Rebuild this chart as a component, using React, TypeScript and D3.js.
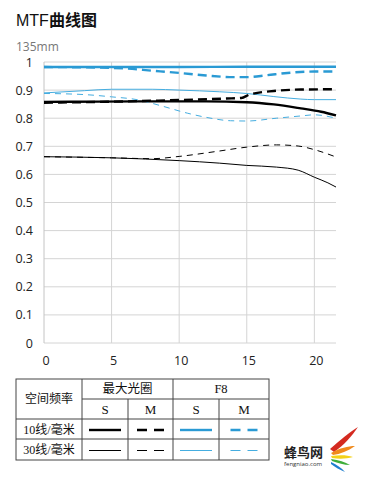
import { useRef, useEffect } from "react"
import * as d3 from "d3"

// MTF readings, x = distance from centre (mm)
const maxS10 = [[0, 0.858], [4, 0.859], [8, 0.86], [12, 0.86], [15, 0.857], [17, 0.849], [19, 0.835], [20.5, 0.823], [21.6, 0.81]]
const maxM10 = [[0, 0.855], [4, 0.858], [8, 0.862], [11, 0.866], [13.5, 0.87], [14.6, 0.872], [15.2, 0.884], [17, 0.897], [19, 0.902], [21.6, 0.903]]
const maxS30 = [[0, 0.663], [5, 0.659], [10, 0.649], [13, 0.64], [15, 0.632], [17.2, 0.626], [18.8, 0.615], [20, 0.59], [21, 0.57], [21.6, 0.555]]
const maxM30 = [[0, 0.663], [5, 0.659], [8, 0.656], [10, 0.664], [12.8, 0.682], [15, 0.697], [17.2, 0.705], [18.8, 0.701], [20, 0.688], [21.6, 0.662]]
const f8S10 = [[0, 0.982], [5, 0.982], [10, 0.982], [15, 0.983], [20, 0.983], [21.6, 0.983]]
const f8M10 = [[0, 0.982], [3, 0.981], [6, 0.977], [8, 0.969], [10, 0.961], [12, 0.952], [14, 0.946], [15, 0.946], [16.5, 0.953], [18, 0.961], [20, 0.966], [21.6, 0.966]]
const f8S30 = [[0, 0.89], [3, 0.898], [5, 0.903], [8, 0.903], [10, 0.9], [13, 0.894], [15, 0.888], [17, 0.877], [19, 0.868], [20, 0.866], [21.6, 0.866]]
const f8M30 = [[0, 0.888], [3, 0.884], [5, 0.876], [7, 0.865], [8.6, 0.845], [10.6, 0.818], [12, 0.803], [13.8, 0.791], [15, 0.79], [17.2, 0.8], [19, 0.808], [20, 0.812], [21.6, 0.8]]

const xTicks = [0, 5, 10, 15, 20]
const yTicks = [0, 0.1, 0.2, 0.3, 0.4, 0.5, 0.6, 0.7, 0.8, 0.9, 1]

const BLUE = "#2a9ad4"
const BLUE_THIN = "#45ade0"

const series = [
  { name: "maxS10", data: maxS10, color: "#000", width: 2.4, dash: null },
  { name: "maxS30", data: maxS30, color: "#000", width: 1, dash: null },
  { name: "maxM30", data: maxM30, color: "#000", width: 1, dash: "6,5" },
  { name: "f8S30", data: f8S30, color: BLUE_THIN, width: 1, dash: null },
  { name: "f8M30", data: f8M30, color: BLUE_THIN, width: 1, dash: "6,5" },
  { name: "maxM10", data: maxM10, color: "#000", width: 2.4, dash: "9,5" },
  { name: "f8S10", data: f8S10, color: BLUE, width: 2.4, dash: null },
  { name: "f8M10", data: f8M10, color: BLUE, width: 2.4, dash: "9,5" },
]

// legend table
const colHeads = ["最大光圈", "F8"]
const subHeads = ["S", "M", "S", "M"]
const rowHeads = ["10线/毫米", "30线/毫米"]

const serif = "'Liberation Serif', 'DejaVu Serif', 'Noto Sans CJK SC', serif"
const sans = "'Open Sans', 'Noto Sans', 'Liberation Sans', sans-serif"

const App = () => {
  const svgRef = useRef<SVGSVGElement>(null)

  useEffect(() => {
    const svg = d3.select(svgRef.current)
    svg.selectAll("*").remove()

    svg.append("rect").attr("width", 365).attr("height", 479).attr("fill", "#fff")

    // title
    const title = svg.append("text").attr("x", 16).attr("y", 26).style("font-size", "16px").attr("fill", "#111")
    title.append("tspan").attr("font-weight", "normal").style("font-family", "'Liberation Sans', sans-serif").text("MTF")
    title.append("tspan").attr("font-weight", "bold").style("font-family", "'Noto Sans CJK SC', sans-serif").text("曲线图")

    svg.append("text").attr("x", 16).attr("y", 51).attr("fill", "#777")
      .style("font-size", "12px").style("font-family", sans).text("135mm")

    const margin = { left: 44, top: 62 }
    const x = d3.scaleLinear().domain([0, 21.6]).range([margin.left, 336])
    const y = d3.scaleLinear().domain([0, 1]).range([343, margin.top])

    const grid = svg.append("g")
    grid.selectAll(".h").data(yTicks).enter().append("line")
      .attr("x1", x(0)).attr("x2", x(21.6))
      .attr("y1", (d) => y(d)).attr("y2", (d) => y(d))
      .attr("stroke", "#d4d4d4").attr("stroke-width", 1)
    grid.selectAll(".v").data(xTicks).enter().append("line")
      .attr("x1", (d) => x(d)).attr("x2", (d) => x(d))
      .attr("y1", y(0)).attr("y2", y(1))
      .attr("stroke", (d) => (d === 0 ? "#c4c4c4" : "#d4d4d4")).attr("stroke-width", 1)

    svg.append("g").selectAll("text").data(yTicks).enter().append("text")
      .attr("x", 33).attr("y", (d) => y(d) + 4.5)
      .attr("text-anchor", "end").attr("fill", "#222")
      .style("font-size", "12.5px").style("font-family", sans)
      .text((d) => (d === 0 || d === 1 ? String(d) : d.toFixed(1)))

    svg.append("g").selectAll("text").data(xTicks).enter().append("text")
      .attr("x", (d) => x(d) + 2).attr("y", 365)
      .attr("text-anchor", "middle").attr("fill", "#222")
      .style("font-size", "12.5px").style("font-family", sans)
      .text((d) => d)

    const line = d3.line<number[]>().x((d) => x(d[0])).y((d) => y(d[1])).curve(d3.curveMonotoneX)

    series.forEach((s) => {
      svg.append("path").datum(s.data)
        .attr("fill", "none").attr("stroke", s.color)
        .attr("stroke-width", s.width)
        .attr("stroke-dasharray", s.dash)
        .attr("d", line)
    })

    // legend table
    const cols = [16, 82, 128, 173, 219, 269]
    const rows = [379, 399, 419, 439, 460]
    const tbl = svg.append("g")
    const stroke = "#444"
    tbl.append("rect").attr("x", cols[0]).attr("y", rows[0]).attr("width", cols[5] - cols[0]).attr("height", rows[4] - rows[0])
      .attr("fill", "none").attr("stroke", stroke)
    ;[cols[1], cols[3]].forEach((c) => tbl.append("line").attr("x1", c).attr("x2", c).attr("y1", rows[0]).attr("y2", rows[4]).attr("stroke", stroke))
    ;[cols[2], cols[4]].forEach((c) => tbl.append("line").attr("x1", c).attr("x2", c).attr("y1", rows[1]).attr("y2", rows[4]).attr("stroke", stroke))
    tbl.append("line").attr("x1", cols[1]).attr("x2", cols[5]).attr("y1", rows[1]).attr("y2", rows[1]).attr("stroke", stroke)
    ;[rows[2], rows[3]].forEach((r) => tbl.append("line").attr("x1", cols[0]).attr("x2", cols[5]).attr("y1", r).attr("y2", r).attr("stroke", stroke))

    const txt = (tx: number, ty: number, t: string, size = 12) =>
      tbl.append("text").attr("x", tx).attr("y", ty).attr("text-anchor", "middle")
        .style("font-size", `${size}px`).style("font-family", serif).attr("fill", "#111").text(t)

    txt((cols[0] + cols[1]) / 2, (rows[0] + rows[2]) / 2 + 4, "空间频率")
    colHeads.forEach((h, i) => txt((cols[1 + i * 2] + cols[3 + i * 2]) / 2, (rows[0] + rows[1]) / 2 + 4, h, 12.5))
    subHeads.forEach((h, i) => txt((cols[1 + i] + cols[2 + i]) / 2, (rows[1] + rows[2]) / 2 + 4.5, h, 13))
    rowHeads.forEach((h, i) => txt((cols[0] + cols[1]) / 2, (rows[2 + i] + rows[3 + i]) / 2 + 4.5, h, 12))

    const keyOrder = [
      ["maxS10", "maxM10", "f8S10", "f8M10"],
      ["maxS30", "maxM30", "f8S30", "f8M30"],
    ]
    keyOrder.forEach((row, ri) => {
      row.forEach((name, ci) => {
        const s = series.find((d) => d.name === name)!
        const cx = (cols[1 + ci] + cols[2 + ci]) / 2
        const half = ci % 2 === 0 ? 16 : 13.5
        tbl.append("line")
          .attr("x1", cx - half).attr("x2", cx + half)
          .attr("y1", (rows[2 + ri] + rows[3 + ri]) / 2 + 1)
          .attr("y2", (rows[2 + ri] + rows[3 + ri]) / 2 + 1)
          .attr("stroke", s.color).attr("stroke-width", ri === 0 ? 2.4 : 1)
          .attr("stroke-dasharray", s.dash ? "10,7" : null)
      })
    })

    // fengniao logo
    const logo = svg.append("g")
    logo.append("text").attr("x", 284).attr("y", 457).style("font-size", "13px").attr("font-weight", "bold")
      .style("font-family", "'Noto Sans CJK SC', sans-serif").attr("fill", "#222").text("蜂鸟网")
    logo.append("text").attr("x", 284).attr("y", 466).style("font-size", "6px")
      .style("font-family", sans).attr("fill", "#333").text("fengniao.com")
    const feathers = [
      { c: "#d42a20", d: "M330,449 C340,440 350,432 358,427 C352,436 344,445 334,452 Z" },
      { c: "#f08a1c", d: "M331,453 C340,448 348,446 355,446 C348,451 340,454 333,455 Z" },
      { c: "#f3d21a", d: "M331,456 C340,455 347,455 353,457 C346,459 339,459 332,458 Z" },
      { c: "#3fae3a", d: "M331,459 C339,460 345,462 350,465 C344,465 338,463 332,461 Z" },
      { c: "#1f7fcf", d: "M331,462 C337,465 342,468 345,472 C340,470 335,467 331,464 Z" },
    ]
    feathers.forEach((f) => logo.append("path").attr("d", f.d).attr("fill", f.c))
  }, [])

  return <svg ref={svgRef} width={365} height={479} style={{ position: "absolute", left: 0, top: 0 }} />
}

export default App
